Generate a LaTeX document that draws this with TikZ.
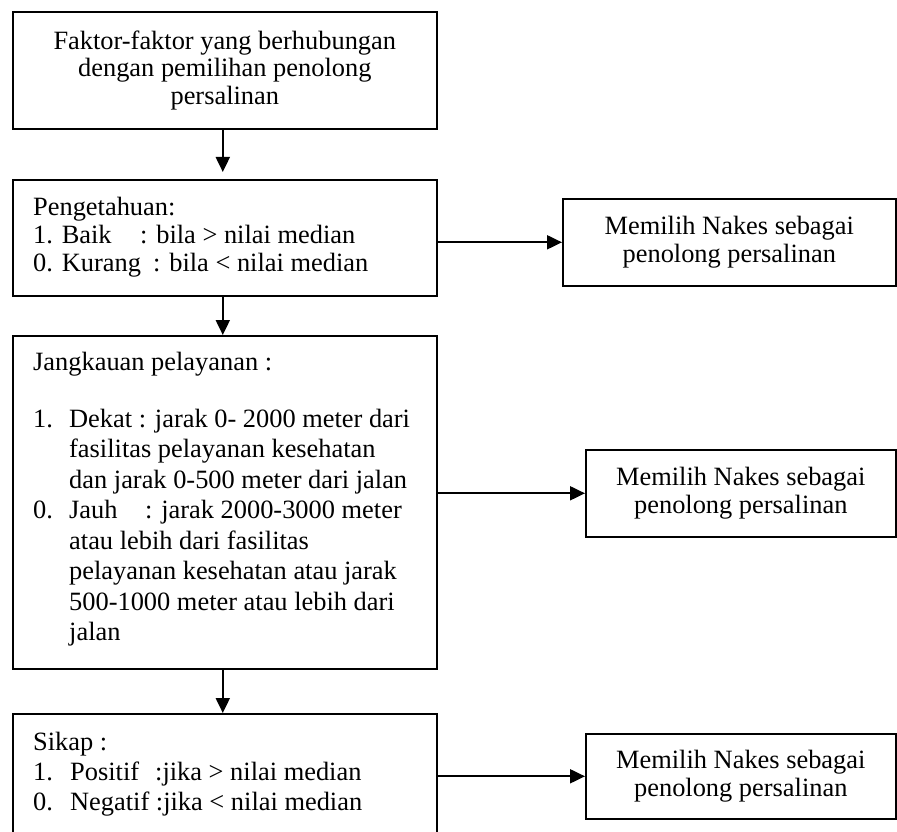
\documentclass[tikz,border=0pt]{standalone}
\usepackage{fontspec}
\setmainfont{Liberation Serif}
\usetikzlibrary{arrows.meta}
\begin{document}
\begin{tikzpicture}[x=1pt,y=-1pt,
  box/.style={draw, line width=1.6pt, rectangle, inner sep=0pt, anchor=north west},
  conn/.style={line width=2pt, -{Triangle[length=15pt,width=14pt]}},
  txt/.style={anchor=base west, inner sep=0pt, font=\fontsize{26.4}{28}\selectfont},
  ctr/.style={align=center, font=\fontsize{26.4}{27.5}\selectfont}
]
\useasboundingbox (0,0) rectangle (897,832);
\clip (0,0) rectangle (897,832);

% left column boxes
\node[box, ctr, minimum width=424pt, minimum height=117pt] (b1) at (12,11)
  {Faktor-faktor yang berhubungan\\dengan pemilihan penolong\\persalinan};
\node[box, minimum width=424pt, minimum height=116pt] (b2) at (12,179) {};
\node[box, minimum width=424pt, minimum height=333pt] (b3) at (12,335) {};
\node[box, minimum width=424pt, minimum height=140pt] (b4) at (12,713) {};

% right column boxes
\node[box, ctr, minimum width=333pt, minimum height=87pt] (r1) at (562,198)
  {Memilih Nakes sebagai\\penolong persalinan};
\node[box, ctr, minimum width=310pt, minimum height=87pt] (r2) at (585,449)
  {Memilih Nakes sebagai\\penolong persalinan};
\node[box, ctr, minimum width=310pt, minimum height=85pt] (r3) at (585,733)
  {Memilih Nakes sebagai\\penolong persalinan};

% box 2 text
\node[txt] (p0) at (33,215) {Pengetahuan:};
\node[txt] (p1) at (33,243) {\makebox[107pt][l]{1. Baik}: bila > nilai median};
\node[txt] (p2) at (33,271) {\makebox[120pt][l]{0. Kurang}: bila < nilai median};

% box 3 text
\node[txt] (j0) at (33,370) {Jangkauan pelayanan :};
\node[txt] (j1) at (33,427) {\makebox[36pt][l]{1.}Dekat : jarak 0- 2000 meter dari};
\node[txt] (j2) at (69,457.5) {fasilitas pelayanan kesehatan};
\node[txt] (j3) at (69,488) {dan jarak 0-500 meter dari jalan};
\node[txt] (j4) at (33,518.5) {\makebox[36pt][l]{0.}\makebox[76pt][l]{Jauh}: jarak 2000-3000 meter};
\node[txt] (j5) at (69,549) {atau lebih dari fasilitas};
\node[txt] (j6) at (69,579.5) {pelayanan kesehatan atau jarak};
\node[txt] (j7) at (69,610) {500-1000 meter atau lebih dari};
\node[txt] (j8) at (69,640.5) {jalan};

% box 4 text
\node[txt] (s0) at (33,750) {Sikap :};
\node[txt] (s1) at (33,780) {\makebox[37pt][l]{1.}\makebox[85pt][l]{Positif}:jika > nilai median};
\node[txt] (s2) at (33,810) {\makebox[37pt][l]{0.}Negatif :jika < nilai median};

% vertical connectors
\draw[conn] ([xshift=-2pt]b1.south) -- ([xshift=-2pt,yshift=7pt]b2.north);
\draw[conn] ([xshift=-2pt]b2.south) -- ([xshift=-2pt]b3.north);
\draw[conn] ([xshift=-2pt]b3.south) -- ([xshift=-2pt]b4.north);

% horizontal connectors
\draw[conn] (b2.east |- r1.west) -- (r1.west);
\draw[conn] (b3.east |- r2.west) -- (r2.west);
\draw[conn] (b4.east |- r3.west) -- (r3.west);
\end{tikzpicture}
\end{document}
